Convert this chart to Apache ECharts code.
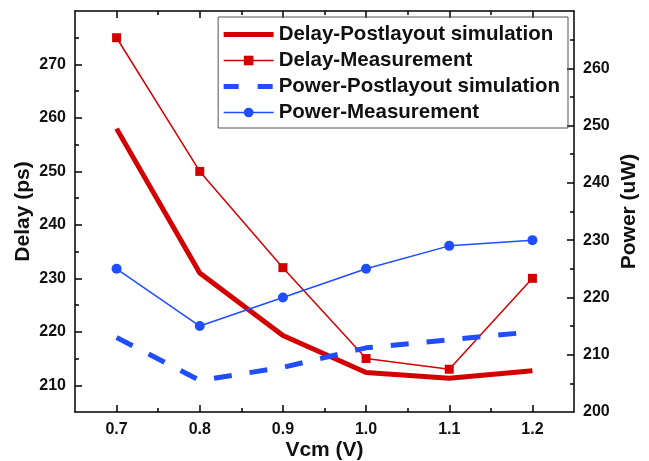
<!DOCTYPE html>
<html>
<head>
<meta charset="utf-8">
<script src="https://cdn.jsdelivr.net/npm/echarts@6/dist/echarts.min.js"></script>
<style>
  html, body { margin: 0; padding: 0; background: #ffffff; }
  #chart { width: 649px; height: 461px; }
</style>
</head>
<body>
<div id="chart"></div>
<script>
// Common-mode voltage sweep (V)
const vcm = [0.7, 0.8, 0.9, 1.0, 1.1, 1.2];

// Delay (ps)
const delaySim  = [258, 231, 219.3, 212.4, 211.3, 212.7];
const delayMeas = [275, 250, 232, 215, 213, 230];

// Power (uW)
const powerSim  = [213, 205.5, 207.8, 211.2, 212.6, 214];
const powerMeas = [225, 215, 220, 225, 229, 230];

// Axis tick values
const xMajor = [0.7, 0.8, 0.9, 1.0, 1.1, 1.2];
const xMinor = [0.75, 0.85, 0.95, 1.05, 1.15];
const delayMajor = [210, 220, 230, 240, 250, 260, 270];
const delayMinor = [215, 225, 235, 245, 255, 265, 275];
const powerLabels = [200, 210, 220, 230, 240, 250, 260];
const powerMajor = [210, 220, 230, 240, 250, 260];
const powerMinor = [205, 215, 225, 235, 245, 255, 265];

const FONT = '"Liberation Sans", Arial, sans-serif';
const RED = '#d40000';
const BLUE = '#1f4dff';
const DASH = [18, 18];

const pairs = (vals) => vcm.map((x, i) => [x, vals[i]]);

const lineAx = { show: true, lineStyle: { color: '#000', width: 1.5 } };
const noLine = { show: false };

function xAx(pos, ticks, len, withLabels, withLine) {
  return {
    type: 'value', position: pos, min: 0.65, max: 1.25, interval: 0.05,
    axisLine: withLine ? lineAx : noLine,
    axisTick: { show: true, inside: true, length: len, customValues: ticks,
                lineStyle: { color: '#000', width: 1.5 } },
    axisLabel: withLabels ? {
      show: true, customValues: xMajor, margin: 10,
      formatter: (v) => v.toFixed(1),
      fontFamily: FONT, fontWeight: 'bold', fontSize: 16, color: '#111'
    } : { show: false },
    splitLine: { show: false }
  };
}

function yAx(pos, min, max, interval, ticks, len, labels, withLine) {
  return {
    type: 'value', position: pos, min: min, max: max, interval: interval,
    axisLine: withLine ? lineAx : noLine,
    axisTick: { show: true, inside: true, length: len, customValues: ticks,
                lineStyle: { color: '#000', width: 1.5 } },
    axisLabel: labels ? {
      show: true, customValues: labels, margin: 9,
      fontFamily: FONT, fontWeight: 'bold', fontSize: 16, color: '#111'
    } : { show: false },
    splitLine: { show: false }
  };
}

const titleStyle = { fontFamily: FONT, fontWeight: 'bold', fontSize: 21, color: '#111' };

const xAxes = [
  xAx('bottom', xMajor, 7, true, true),
  xAx('bottom', xMinor, 4, false, false),
  xAx('top', xMajor, 7, false, true),
  xAx('top', xMinor, 4, false, false)
];
Object.assign(xAxes[0], {
  name: 'Vcm (V)', nameLocation: 'middle', nameGap: 28, nameMoveOverlap: false,
  nameTextStyle: titleStyle
});

const yAxes = [
  yAx('left', 205, 280, 5, delayMajor, 7, delayMajor, true),
  yAx('left', 205, 280, 5, delayMinor, 4, null, false),
  yAx('right', 200, 270, 10, powerMajor, 7, powerLabels, true),
  yAx('right', 200, 270, 10, powerMinor, 4, null, false)
];
Object.assign(yAxes[0], {
  name: 'Delay (ps)', nameLocation: 'middle', nameGap: 41, nameRotate: 90,
  nameMoveOverlap: false, nameTextStyle: titleStyle
});
Object.assign(yAxes[2], {
  name: 'Power (uW)', nameLocation: 'middle', nameGap: 45, nameRotate: 90,
  nameMoveOverlap: false, nameTextStyle: titleStyle
});

const chart = echarts.init(document.getElementById('chart'), null, { renderer: 'canvas' });
chart.setOption({
  animation: false,
  backgroundColor: '#ffffff',
  grid: { left: 75, right: 75, top: 11, bottom: 49, containLabel: false, outerBoundsMode: 'none' },
  xAxis: xAxes,
  yAxis: yAxes,
  legend: {
    orient: 'vertical', right: 81, top: 17,
    itemWidth: 50, itemHeight: 12, itemGap: 5,
    padding: [7, 8, 5, 3],
    borderColor: '#555', borderWidth: 1,
    textStyle: { fontFamily: FONT, fontWeight: 'bold', fontSize: 20.5, color: '#111', lineHeight: 21 },
    data: [
      { name: 'Delay-Postlayout simulation', itemStyle: { opacity: 0 }, lineStyle: { width: 5 } },
      { name: 'Delay-Measurement', lineStyle: { width: 1.5 } },
      { name: 'Power-Postlayout simulation', itemStyle: { opacity: 0 }, lineStyle: { width: 5, type: [15, 19] } },
      { name: 'Power-Measurement', lineStyle: { width: 1.5 } }
    ]
  },
  series: [
    {
      name: 'Delay-Postlayout simulation', type: 'line',
      xAxisIndex: 0, yAxisIndex: 0, data: pairs(delaySim),
      symbol: 'none', color: RED,
      lineStyle: { color: RED, width: 5 }
    },
    {
      name: 'Delay-Measurement', type: 'line',
      xAxisIndex: 0, yAxisIndex: 0, data: pairs(delayMeas),
      symbol: 'rect', symbolSize: 9, color: RED,
      itemStyle: { color: RED },
      lineStyle: { color: RED, width: 1.5 }
    },
    {
      name: 'Power-Postlayout simulation', type: 'line',
      xAxisIndex: 0, yAxisIndex: 2, data: pairs(powerSim),
      symbol: 'none', color: BLUE,
      lineStyle: { color: BLUE, width: 5, type: DASH }
    },
    {
      name: 'Power-Measurement', type: 'line',
      xAxisIndex: 0, yAxisIndex: 2, data: pairs(powerMeas),
      symbol: 'circle', symbolSize: 10, color: BLUE,
      itemStyle: { color: BLUE },
      lineStyle: { color: BLUE, width: 1.5 }
    }
  ]
});
</script>
</body>
</html>
